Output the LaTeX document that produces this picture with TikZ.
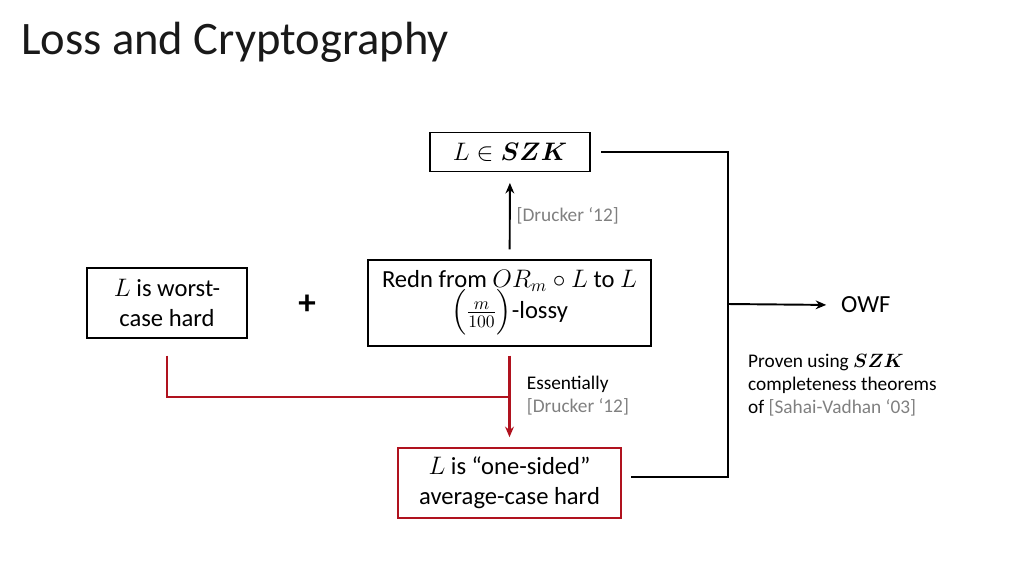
\documentclass[tikz,border=0pt]{standalone}
\usepackage{amsmath,bm}
\usepackage{fontspec}
\setmainfont{Carlito}
\usetikzlibrary{arrows.meta}
\definecolor{darkred}{RGB}{176,18,30}
\begin{document}
\begin{tikzpicture}[x=0.02cm, y=-0.02cm,
    box/.style={draw, line width=1pt, align=center, inner sep=2pt,
      font=\fontsize{14}{17}\selectfont},
    cite/.style={text=black!50},
    small/.style={font=\fontsize{11}{13}\selectfont}]
  \useasboundingbox (0,0) rectangle (1024,576);
  \node[anchor=west, text=black!90, font=\fontsize{26.5}{30}\selectfont] (title) at (15,42)
    {Loss and Cryptography};
  \begin{scope}[every node/.style={box}]
    \node[minimum width=3.2cm, minimum height=0.78cm] (szk) at (510,152)
      {$L \in \bm{SZK}$};
    \node[minimum width=3.2cm, minimum height=1.4cm] (worst) at (167,303)
      {$L$ is worst-\\case hard};
    \node[minimum width=5.66cm, minimum height=1.72cm] (redn) at (509.5,303)
      {Redn from $OR_m \circ L$ to $L$\\[-2pt]
        $\Big(\tfrac{m}{100}\Big)$-lossy};
    \node[draw=darkred, line width=1.3pt, minimum width=4.46cm,
      minimum height=1.4cm] (one) at (509.5,483)
      {$L$ is ``one-sided''\\average-case hard};
  \end{scope}
  \node[font=\fontsize{20}{20}\selectfont\bfseries] (plus) at (307,305) {+};
  \node[anchor=west, font=\fontsize{14}{17}\selectfont] (owf) at (835,305) {OWF};
  \node[anchor=north west, align=left, small] (proof) at (742,348)
    {Proven using $\bm{SZK}$\\completeness theorems\\
      of \textcolor{black!50}{[Sahai-Vadhan ‘03]}};
  \coordinate (jn) at (728,304);
  \coordinate (merge) at (510,397);
  \begin{scope}[->, >={Stealth[length=6pt, width=5pt]}, line width=1.1pt]
    \draw[shorten <=5.5pt, shorten >=6pt] (redn) -- node[right, small, cite]
      {[Drucker ‘12]} (szk);
    \draw[-] ([xshift=6pt]szk.east) -| (jn) |- ([xshift=5pt, yshift=3.5pt]one.east);
    \draw[shorten >=5pt] (jn) -- (owf.west);
    \draw[-, darkred, line width=1.3pt] ([yshift=-9.5pt]worst.south) |- (merge);
    \draw[darkred, line width=1.3pt, shorten <=5pt, shorten >=5.5pt] (redn) -- (one);
    \node[anchor=west, align=left, small] (ess) at (520,396)
      {Essentially\\\textcolor{black!50}{[Drucker ‘12]}};
  \end{scope}
\end{tikzpicture}
\end{document}
